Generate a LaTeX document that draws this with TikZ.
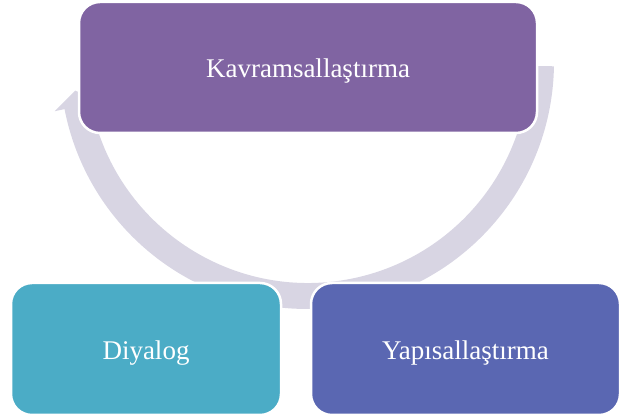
\documentclass[tikz,border=0pt]{standalone}
\usepackage{fontspec}
\setmainfont{Liberation Serif}
\newfontfamily\stagefont{Liberation Serif}
\usetikzlibrary{calc}

\definecolor{conceptfill}{RGB}{128,100,162}
\definecolor{dialogfill}{RGB}{75,172,198}
\definecolor{structfill}{RGB}{90,103,178}
\definecolor{ringfill}{RGB}{216,213,227}

\tikzset{
  stagebox/.style={draw=white, line width=2.5pt, rounded corners=21pt,
    text=white, font=\stagefont\fontsize{27pt}{32pt}\selectfont, inner sep=0pt,
    text height=22pt, text depth=1pt},
  ringarrow/.style={fill=ringfill, draw=none}
}

\begin{document}
\begin{tikzpicture}[x=1pt, y=1pt]
  \useasboundingbox (0,0) rectangle (621,419);

  % centre of the cycle arrow
  \coordinate (c) at (308,357);

  % circular arrow running clockwise behind the three stages
  \fill[ringarrow]
    ($(c)+(-1:246pt)$) arc[start angle=-1, end angle=-169, radius=247pt]
    -- ($(c)+(-169:258pt)$)
    -- ($(c)+(-173:234.5pt)$)
    -- ($(c)+(-169:211pt)$)
    -- ($(c)+(-169:221pt)$)
    arc[start angle=-169, end angle=-1, radius=221pt]
    -- cycle;

  % the three stages
  \node[stagebox, fill=conceptfill, minimum width=458pt, minimum height=131pt]
    (kav) at (308,351.5) {Kavramsallaştırma};
  \node[stagebox, fill=dialogfill, minimum width=270pt, minimum height=132pt]
    (diy) at (146,70) {Diyalog};
  \node[stagebox, fill=structfill, minimum width=309pt, minimum height=132pt]
    (yap) at (465.5,70) {Yapısallaştırma};
\end{tikzpicture}
\end{document}
